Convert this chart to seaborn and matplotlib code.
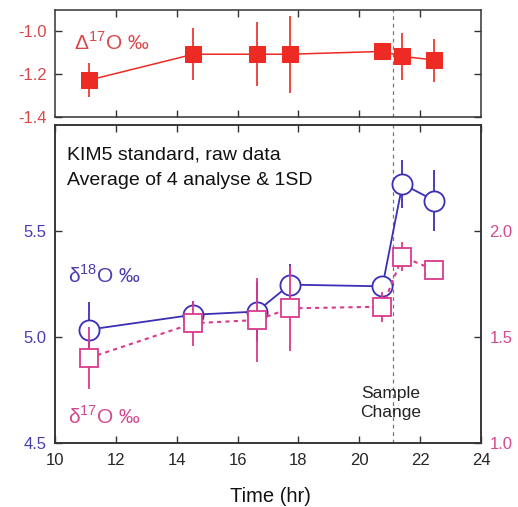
import matplotlib
matplotlib.use("Agg")
import matplotlib.pyplot as plt
import seaborn as sns
import pandas as pd

# time of each 4-analysis average (hr)
tempo = [11.13, 14.55, 16.63, 17.72, 20.76, 21.42, 22.47]
# Delta17O (top panel)
cap17 = [-1.228, -1.108, -1.108, -1.108, -1.095, -1.118, -1.135]
cap17_sd = [0.08, 0.12, 0.15, 0.18, 0.04, 0.11, 0.10]
# delta18O (left axis)
d18 = [5.035, 5.105, 5.12, 5.247, 5.239, 5.722, 5.643]
d18_sd = [0.13, 0.065, 0.14, 0.095, 0.03, 0.113, 0.145]
# delta17O (right axis)
d17 = [1.402, 1.565, 1.58, 1.635, 1.643, 1.879, 1.816]
d17_sd = [0.145, 0.107, 0.2, 0.2, 0.07, 0.07, 0.047]
troca_amostra = 21.12

sns.set_style("ticks")
plt.rcParams['font.family'] = ['Liberation Sans', 'DejaVu Sans']
plt.rcParams['mathtext.fontset'] = 'custom'
plt.rcParams['mathtext.rm'] = 'Liberation Sans'

VERMELHO = '#ee2a24'
AZUL = '#3b2fb5'
ROSA = '#d93a8e'
ROT_VERM = '#d9474a'
ROT_AZUL = '#4a3db0'
ROT_ROSA = '#d4498f'
CINZA = '#333333'

df = pd.DataFrame({'t': tempo, 'cap17': cap17, 'd18': d18, 'd17': d17})

W, H = 518, 507
fig = plt.figure(figsize=(W / 100, H / 100), dpi=100)
ax_top = fig.add_axes([55 / W, 1 - 117 / H, 426 / W, (117 - 9.5) / H])
ax = fig.add_axes([55 / W, 1 - 443 / H, 426 / W, (443 - 125) / H])
ax2 = ax.twinx()


def estilo(a):
    for s in a.spines.values():
        s.set_color(CINZA)
        s.set_linewidth(1.1)
        s.set_visible(True)
    a.tick_params(direction='in', length=5, width=1, color=CINZA,
                  top=True, right=True, labelsize=12)


# --- top panel: Delta17O ---
ax_top.errorbar(tempo, cap17, yerr=cap17_sd, fmt='none', ecolor=VERMELHO,
                elinewidth=1.2, zorder=2)
sns.lineplot(data=df, x='t', y='cap17', ax=ax_top, color=VERMELHO, lw=1.1,
             marker='s', markersize=11.5, markerfacecolor=VERMELHO,
             markeredgecolor=VERMELHO, zorder=3)
ax_top.axvline(troca_amostra, color='#777777', ls=(0, (3, 3)), lw=0.9, zorder=1)
ax_top.set_xlim(10, 24)
ax_top.set_ylim(-1.4, -0.9)
ax_top.set_xticks(range(12, 24, 2))
ax_top.set_yticks([-1.4, -1.2, -1.0])
ax_top.set_yticklabels(['-1.4', '-1.2', '-1.0'])
estilo(ax_top)
ax_top.tick_params(labelbottom=False, labelright=False)
ax_top.tick_params(axis='y', colors=CINZA, labelcolor=ROT_VERM, pad=6)
ax_top.set_xlabel('')
ax_top.set_ylabel('')
ax_top.text(0.045, 0.69, 'Δ$^{17}$O ‰', transform=ax_top.transAxes,
            color=ROT_VERM, fontsize=15, va='center', ha='left')

# --- bottom panel: delta18O (left) and delta17O (right) ---
ax.errorbar(tempo, d18, yerr=d18_sd, fmt='none', ecolor=AZUL,
            elinewidth=1.3, zorder=2)
sns.lineplot(data=df, x='t', y='d18', ax=ax, color=AZUL, lw=1.3,
             marker='o', markersize=14.5, markerfacecolor='white',
             markeredgecolor=AZUL, markeredgewidth=1.3, zorder=3)
ax.axvline(troca_amostra, color='#777777', ls=(0, (3, 3)), lw=0.9, zorder=1)

ax2.errorbar(tempo, d17, yerr=d17_sd, fmt='none', ecolor=ROSA,
             elinewidth=1.3, zorder=2)
sns.lineplot(data=df, x='t', y='d17', ax=ax2, color=ROSA, lw=1.5,
             linestyle=(0, (2, 2)),
             marker='s', markersize=13, markerfacecolor='white',
             markeredgecolor=ROSA, markeredgewidth=1.3, zorder=3)

ax.set_xlim(10, 24)
ax.set_ylim(4.5, 6.0)
ax2.set_ylim(1.0, 2.5)
ax.set_xticks(range(10, 25, 2))
ax.set_yticks([4.5, 5.0, 5.5])
ax2.set_yticks([1.0, 1.5, 2.0])
estilo(ax)
estilo(ax2)
ax.tick_params(right=False)
ax.tick_params(axis='x', pad=7)
ax.tick_params(axis='y', labelcolor=ROT_AZUL, pad=6)
ax2.tick_params(axis='y', left=False, right=True, labelcolor=ROT_ROSA, pad=6)
ax.set_ylabel('')
ax2.set_ylabel('')
ax.set_xlabel('')
fig.text(270 / W, 5.5 / H, 'Time (hr)', fontsize=14.5, ha='center',
         va='baseline', color='#111111')

ax.text(0.027, 0.890, 'KIM5 standard, raw data', transform=ax.transAxes,
        fontsize=14, va='baseline', ha='left', color='#111111')
ax.text(0.027, 0.811, 'Average of 4 analyse & 1SD', transform=ax.transAxes,
        fontsize=14, va='baseline', ha='left', color='#111111')
ax.text(0.03, 0.528, 'δ$^{18}$O ‰', transform=ax.transAxes, color=ROT_AZUL,
        fontsize=15, va='center', ha='left')
ax.text(0.03, 0.083, 'δ$^{17}$O ‰', transform=ax.transAxes, color=ROT_ROSA,
        fontsize=15, va='center', ha='left')
ax.text(troca_amostra - 0.08, 4.711, 'Sample', color='#222222', fontsize=12.5,
        ha='center', va='baseline')
ax.text(troca_amostra - 0.08, 4.624, 'Change', color='#222222', fontsize=12.5,
        ha='center', va='baseline')

fig.savefig('out.png', dpi=100)
